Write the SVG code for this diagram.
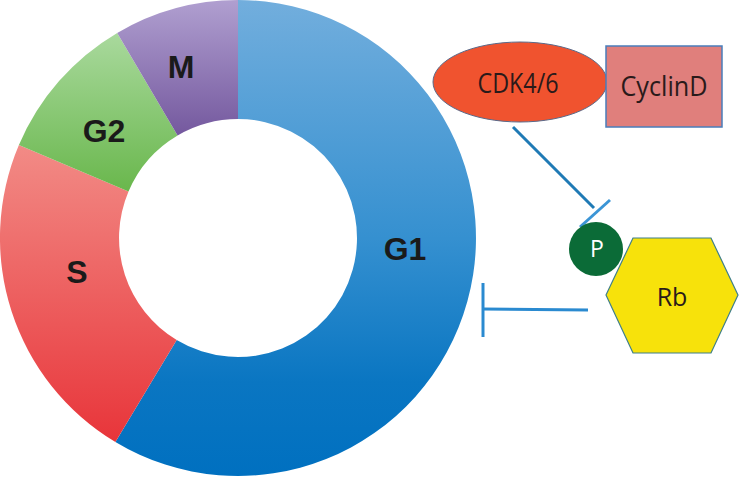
<svg xmlns="http://www.w3.org/2000/svg" width="740" height="477" viewBox="0 0 740 477">
<defs>
<linearGradient id="gG1" gradientUnits="userSpaceOnUse" x1="0" y1="0" x2="0" y2="477">
<stop offset="0" stop-color="#72aedd"/><stop offset="0.5" stop-color="#3590d0"/><stop offset="0.8" stop-color="#0a76c2"/><stop offset="1" stop-color="#0070c0"/>
</linearGradient>
<linearGradient id="gM" gradientUnits="userSpaceOnUse" x1="0" y1="0" x2="0" y2="136">
<stop offset="0" stop-color="#b09fd0"/><stop offset="1" stop-color="#74589e"/>
</linearGradient>
<linearGradient id="gG2" gradientUnits="userSpaceOnUse" x1="0" y1="33" x2="0" y2="192">
<stop offset="0" stop-color="#a9d99d"/><stop offset="1" stop-color="#69b74c"/>
</linearGradient>
<linearGradient id="gS" gradientUnits="userSpaceOnUse" x1="0" y1="145" x2="0" y2="442">
<stop offset="0" stop-color="#f28b86"/><stop offset="1" stop-color="#e8353a"/>
</linearGradient>
<style>
.phase{font-family:"Liberation Sans",Arial,sans-serif;font-weight:bold;font-size:32px;fill:#1a1a1a;text-anchor:middle}
.lbl{font-family:"Open Sans","Liberation Sans",sans-serif;text-anchor:middle;fill:#2a1a1a}
.conn{stroke-width:3;fill:none;stroke-linecap:butt}
</style>
</defs>
<g id="donut">
<g id="G1"><path d="M238,0 A238,238 0 1 1 115.4,442 L176.7,340 A119,119 0 1 0 238,119 Z" fill="url(#gG1)"/><text class="phase" x="405" y="260">G1</text></g>
<g id="S"><path d="M115.4,442 A238,238 0 0 1 18.9,145 L128.5,191.5 A119,119 0 0 0 176.7,340 Z" fill="url(#gS)"/><text class="phase" x="77" y="283">S</text></g>
<g id="G2"><path d="M18.9,145 A238,238 0 0 1 117.2,32.9 L177.6,135.5 A119,119 0 0 0 128.5,191.5 Z" fill="url(#gG2)"/><text class="phase" x="104" y="142">G2</text></g>
<g id="M"><path d="M117.2,32.9 A238,238 0 0 1 238,0 L238,119 A119,119 0 0 0 177.6,135.5 Z" fill="url(#gM)"/><text class="phase" x="181" y="78">M</text></g>
</g>
<g id="connectors">
<path class="conn" d="M513,127 L594,208" stroke="#1f7ab5"/>
<path class="conn" d="M580,227 L610,200" stroke="#3b95d6"/>
<path class="conn" d="M483,309 L588,310" stroke="#2a8ad0"/>
<path class="conn" d="M483,283 L483,337" stroke="#2a8ad0"/>
</g>
<g id="CDK46">
<ellipse cx="520" cy="82" rx="87" ry="40" fill="#f0532f" stroke="#5a6a8a" stroke-width="1"/>
<text class="lbl" x="518" y="93" font-size="27" textLength="81" lengthAdjust="spacingAndGlyphs">CDK4/6</text>
</g>
<g id="CyclinD">
<rect x="606" y="46" width="116" height="81" fill="#e07f7c" stroke="#4a7ebb" stroke-width="1.5"/>
<text class="lbl" x="664" y="96" font-size="27" textLength="87" lengthAdjust="spacingAndGlyphs">CyclinD</text>
</g>
<g id="Rb">
<polygon points="606,295 633,238 711,238 738,295 711,353 633,353" fill="#f7e20b" stroke="#3f7f8a" stroke-width="1.2"/>
<text class="lbl" x="672" y="306" font-size="25">Rb</text>
</g>
<g id="P">
<circle cx="596" cy="249" r="27" fill="#0b6b37"/>
<text class="lbl" x="597" y="257" font-size="23" style="fill:#ffffff">P</text>
</g>
</svg>
